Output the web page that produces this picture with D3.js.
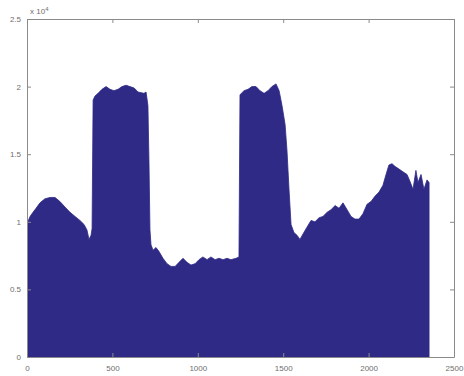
<!DOCTYPE html>
<html>
<head>
<meta charset="utf-8">
<script src="https://cdn.jsdelivr.net/npm/d3@7"></script>
<style>
  body { margin: 0; background: #fff; }
  svg { display: block; }
</style>
</head>
<body>
<script>
// Constants

const width = 464;
const height = 376;
const margin = { top: 19, right: 10, bottom: 19, left: 27 };

// Data (sample index, value)

const sampleX = [
	5, 18, 35, 53, 76, 105, 135, 164, 193, 222, 252, 281, 310, 334, 351, 363, 375, 381,
	387, 398, 416, 439, 463, 486, 509, 533, 556, 580, 603, 627, 650, 685, 697, 708, 714, 720, 726,
	738, 755, 773, 796, 820, 843, 867, 890, 913, 937, 960, 984, 1007, 1030, 1054, 1077, 1101,
	1124, 1148, 1171, 1194, 1224, 1241,
	1247, 1271, 1294, 1317, 1341, 1364, 1388, 1411, 1434, 1458, 1476, 1493, 1511, 1522, 1534, 1546,
	1563, 1581, 1598, 1616, 1639, 1663, 1686, 1710, 1733, 1757, 1780, 1804, 1827, 1850, 1874,
	1897, 1920, 1944, 1967, 1991, 2014, 2038, 2061, 2084, 2102, 2119, 2137, 2154, 2178, 2201,
	2225, 2242, 2260, 2277, 2289, 2307, 2324, 2342, 2354
];

const sampleY = [
	10000, 10400, 10700, 11000, 11400, 11700, 11800, 11800, 11500, 11100, 10700, 10400, 10100, 9800, 9400, 8700, 9000, 9500,
	19000, 19300, 19500, 19800, 20000, 19800, 19700, 19800, 20000, 20100, 20000, 19900, 19600, 19500, 19600, 18600, 14600, 9400, 8300,
	7900, 8100, 7800, 7300, 6900, 6700, 6700, 7000, 7300, 7000, 6800, 6900, 7200, 7400, 7200, 7400, 7200,
	7300, 7200, 7300, 7200, 7300, 7400,
	19400, 19700, 19800, 20000, 20000, 19700, 19500, 19700, 20000, 20200, 19700, 18600, 17200, 15300, 12400, 9800,
	9200, 9000, 8700, 9100, 9600, 10100, 10000, 10300, 10400, 10700, 10900, 11200, 11000, 11400, 10900,
	10400, 10200, 10200, 10600, 11300, 11500, 11900, 12200, 12700, 13500, 14200, 14300, 14100, 13900, 13700,
	13500, 13000, 12400, 13800, 12900, 13500, 12400, 13100, 12900
];

const xTicks = [0, 500, 1000, 1500, 2000, 2500];
const yTicks = [0, 5000, 10000, 15000, 20000, 25000];
const yTickLabels = ['0', '0.5', '1', '1.5', '2', '2.5'];

const data = sampleX.map((x, i) => ({ x: x, y: sampleY[i] }));

// Scales

const x = d3.scaleLinear()
	.domain([0, 2500])
	.range([margin.left, width - margin.right]);

const y = d3.scaleLinear()
	.domain([0, 25000])
	.range([height - margin.bottom, margin.top]);

// Setup svg

const svg = d3.select('body')
	.append('svg')
	.attr('width', width)
	.attr('height', height)
	.attr('font-family', 'Liberation Sans, Arial, sans-serif')
	.attr('font-size', 8);

// Area

const area = d3.area()
	.x((d) => x(d.x))
	.y0(y(0))
	.y1((d) => y(d.y));

svg.append('path')
	.datum([{ x: data[0].x, y: 0 }, ...data, { x: data[data.length - 1].x, y: 0 }])
	.attr('fill', '#2f2a86')
	.attr('stroke', '#2f2a86')
	.attr('stroke-width', 0.8)
	.attr('stroke-linejoin', 'round')
	.attr('d', area);

// Axes (MATLAB style, ticks inside, box all round)

const axisColor = '#8a8a8a';
const textColor = '#6e6e6e';

const xAxis = (g) =>
	g
		.attr('transform', `translate(0,${height - margin.bottom})`)
		.call(d3.axisBottom(x).tickValues(xTicks).tickFormat(d3.format('d')).tickSize(-4).tickPadding(8).tickSizeOuter(0))
		.call((g) => g.select('.domain').attr('stroke', axisColor))
		.call((g) => g.selectAll('.tick line').attr('stroke', axisColor))
		.call((g) => g.selectAll('.tick text').attr('fill', textColor).attr('font-size', 8));

const yAxis = (g) =>
	g
		.attr('transform', `translate(${margin.left},0)`)
		.call(d3.axisLeft(y).tickValues(yTicks).tickFormat((d, i) => yTickLabels[i]).tickSize(-4).tickPadding(6).tickSizeOuter(0))
		.call((g) => g.select('.domain').attr('stroke', axisColor))
		.call((g) => g.selectAll('.tick line').attr('stroke', axisColor))
		.call((g) => g.selectAll('.tick text').attr('fill', textColor).attr('font-size', 8));

const xTop = (g) =>
	g
		.attr('transform', `translate(0,${margin.top})`)
		.call(d3.axisTop(x).tickValues(xTicks).tickSize(-4).tickFormat('').tickSizeOuter(0))
		.call((g) => g.select('.domain').attr('stroke', axisColor))
		.call((g) => g.selectAll('.tick line').attr('stroke', axisColor));

const yRight = (g) =>
	g
		.attr('transform', `translate(${width - margin.right},0)`)
		.call(d3.axisRight(y).tickValues(yTicks).tickSize(-4).tickFormat('').tickSizeOuter(0))
		.call((g) => g.select('.domain').attr('stroke', axisColor))
		.call((g) => g.selectAll('.tick line').attr('stroke', axisColor));

svg.append('g').call(xAxis);
svg.append('g').call(yAxis);
svg.append('g').call(xTop);
svg.append('g').call(yRight);

// Exponent label

const expLabel = svg.append('text')
	.attr('x', margin.left + 3)
	.attr('y', margin.top - 5)
	.attr('fill', textColor)
	.attr('font-size', 8)
	.text('x 10');

expLabel.append('tspan')
	.attr('dy', -3)
	.attr('font-size', 6)
	.text('4');
</script>
</body>
</html>
